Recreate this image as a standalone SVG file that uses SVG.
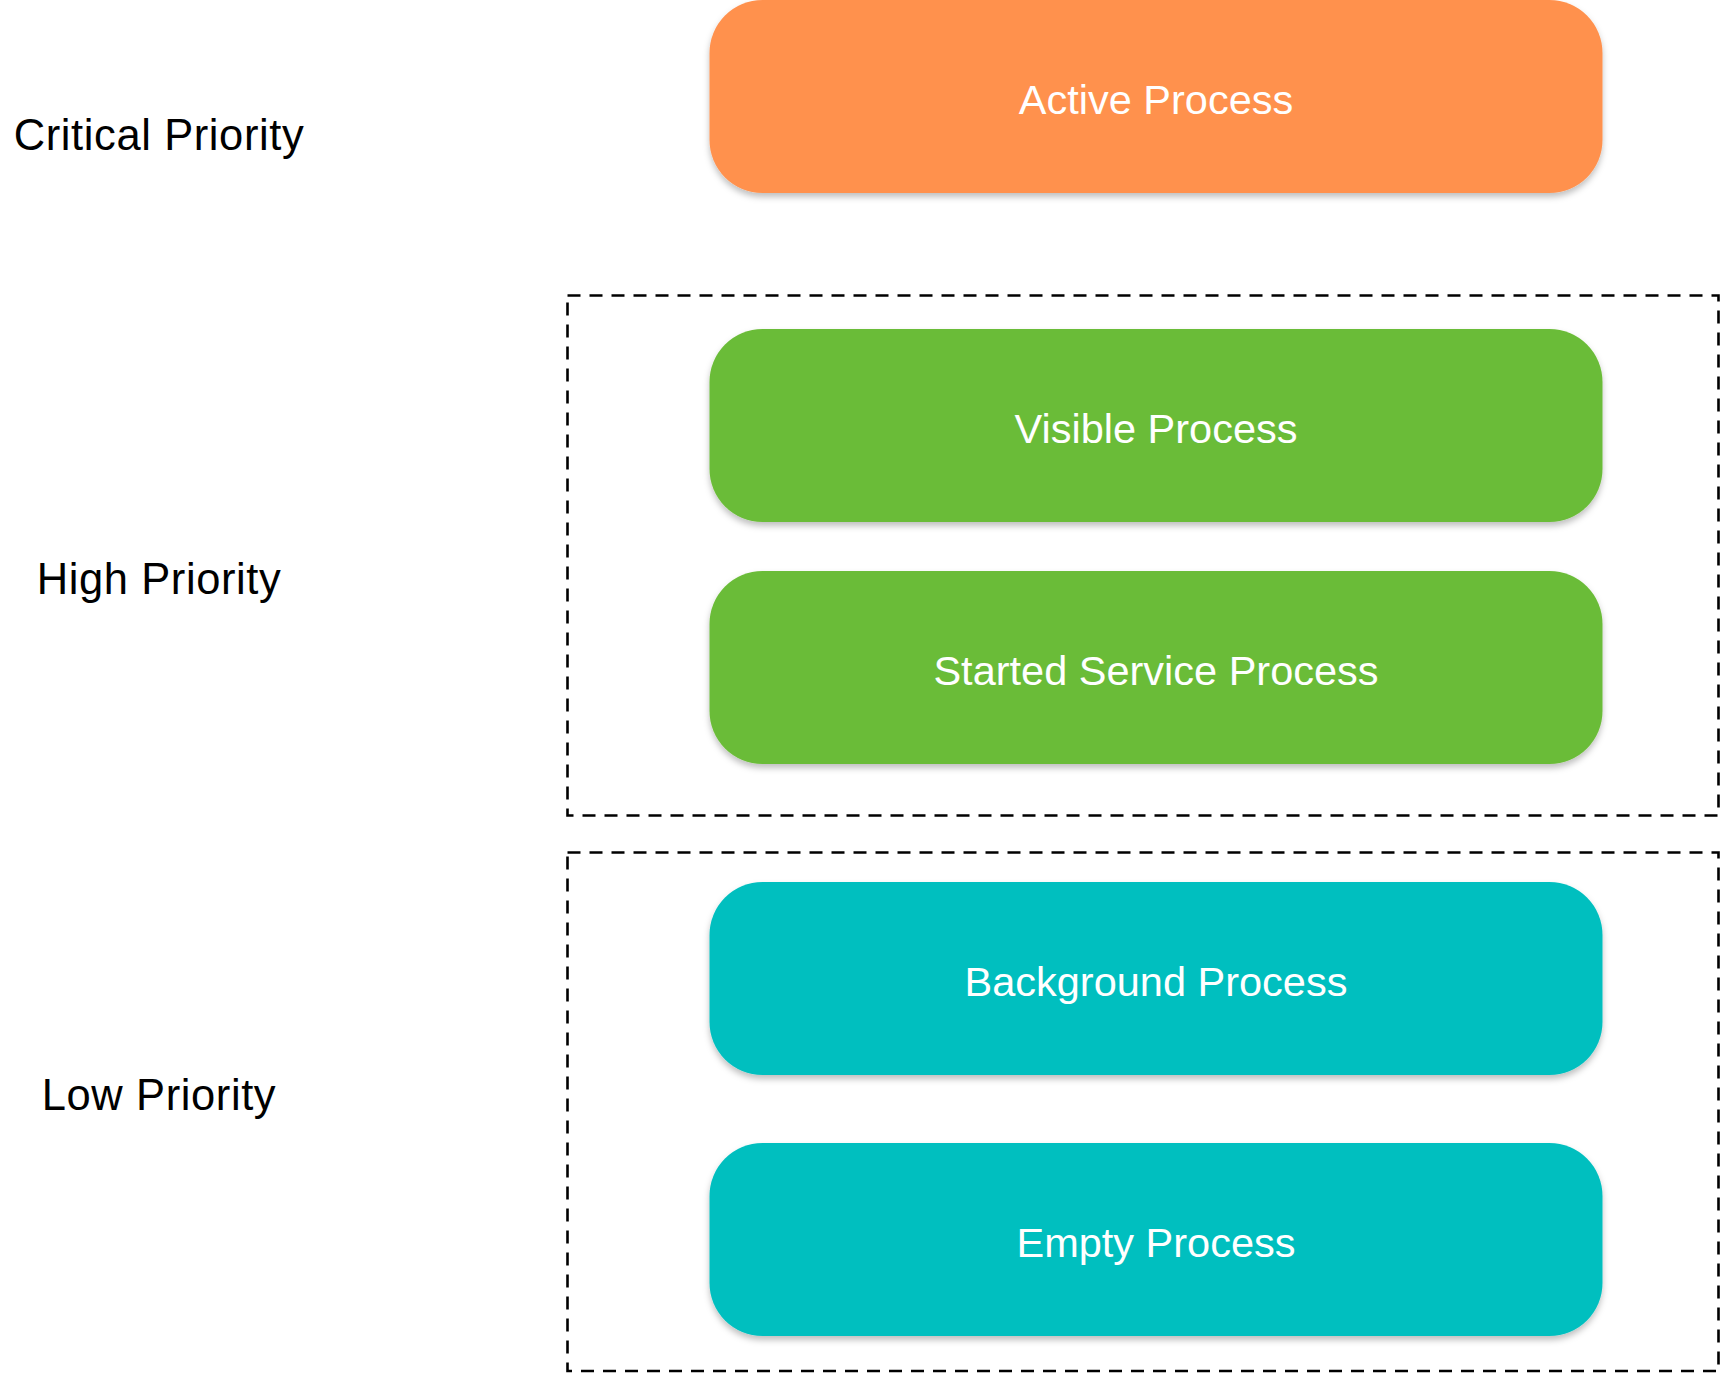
<svg xmlns="http://www.w3.org/2000/svg" width="1720" height="1373" viewBox="0 0 1720 1373">
  <defs>
    <filter id="shadow" x="-5%" y="-10%" width="110%" height="130%">
      <feDropShadow dx="0" dy="4" stdDeviation="3" flood-color="#000" flood-opacity="0.25"/>
    </filter>
  </defs>
  <style>
    .box { filter: url(#shadow); }
    .orange { fill: #FF914D; }
    .green { fill: #6BBC37; }
    .teal { fill: #00BFBF; }
    .btxt { font-family: "Liberation Sans", Arial, sans-serif; font-size: 41.5px; fill: #ffffff; text-anchor: middle; }
    .ltxt { font-family: "Liberation Sans", Arial, sans-serif; font-size: 43.5px; fill: #000000; text-anchor: middle; letter-spacing: 0.6px; }
    .group { fill: none; stroke: #000; stroke-width: 2.6; stroke-dasharray: 13 9; }
  </style>
  <rect width="1720" height="1373" fill="#ffffff"/>

  <g id="groups">
    <rect id="high-group" class="group" x="567.5" y="295.5" width="1151" height="520"/>
    <rect id="low-group" class="group" x="567.5" y="852.5" width="1151" height="518.5"/>
  </g>

  <g id="labels">
    <text id="label-critical" class="ltxt" x="159" y="150">Critical Priority</text>
    <text id="label-high" class="ltxt" x="159" y="594">High Priority</text>
    <text id="label-low" class="ltxt" x="159" y="1110">Low Priority</text>
  </g>

  <g id="node-active">
    <rect class="box orange" x="709.5" y="0" width="893" height="193" rx="53" ry="53"/>
    <text class="btxt" x="1156" y="114">Active Process</text>
  </g>
  <g id="node-visible">
    <rect class="box green" x="709.5" y="329" width="893" height="193" rx="53" ry="53"/>
    <text class="btxt" x="1156" y="443">Visible Process</text>
  </g>
  <g id="node-started">
    <rect class="box green" x="709.5" y="571" width="893" height="193" rx="53" ry="53"/>
    <text class="btxt" x="1156" y="685">Started Service Process</text>
  </g>
  <g id="node-background">
    <rect class="box teal" x="709.5" y="882" width="893" height="193" rx="53" ry="53"/>
    <text class="btxt" x="1156" y="996">Background Process</text>
  </g>
  <g id="node-empty">
    <rect class="box teal" x="709.5" y="1143" width="893" height="193" rx="53" ry="53"/>
    <text class="btxt" x="1156" y="1257">Empty Process</text>
  </g>

  <g id="connectors"></g>
</svg>
